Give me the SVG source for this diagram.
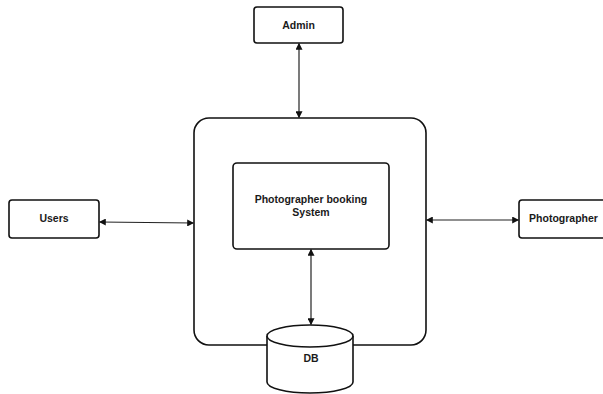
<svg xmlns="http://www.w3.org/2000/svg" width="603" height="394" viewBox="0 0 603 394">
<style>
.box{fill:#fff;stroke:#111;stroke-width:1.6}
.lbl{font-family:"Liberation Sans",Arial,sans-serif;font-weight:bold;font-size:10.5px;fill:#1a1a1a;text-anchor:middle}
.conn{stroke:#222;stroke-width:1.2;fill:none;marker-start:url(#ah);marker-end:url(#ah)}
</style>
<defs>
<marker id="ah" viewBox="0 0 10 10" refX="9" refY="5" markerWidth="7" markerHeight="7" orient="auto-start-reverse" markerUnits="userSpaceOnUse">
<path d="M0,0 L10,5 L0,10 Z" fill="#111"/>
</marker>
</defs>
<rect width="603" height="394" fill="#fff"/>
<g id="system">
<rect class="box" x="194" y="118" width="232" height="227" rx="15" ry="15"/>
</g>
<g id="booking">
<rect class="box" x="233" y="163" width="156" height="86" rx="4" ry="4"/>
<text class="lbl" x="311" y="203">Photographer booking</text>
<text class="lbl" x="311" y="216">System</text>
</g>
<g id="admin">
<rect class="box" x="254" y="7" width="89" height="36" rx="3" ry="3"/>
<text class="lbl" x="298.5" y="29">Admin</text>
</g>
<g id="users">
<rect class="box" x="9" y="200" width="90" height="38" rx="3" ry="3"/>
<text class="lbl" x="54" y="222">Users</text>
</g>
<g id="photographer">
<rect class="box" x="519" y="200" width="90" height="38" rx="3" ry="3"/>
<text class="lbl" x="563.5" y="222">Photographer</text>
</g>
<g id="db">
<path class="box" d="M267,336 L267,382 A43,11 0 0 0 353,382 L353,336"/>
<ellipse class="box" cx="310" cy="336" rx="43" ry="11"/>
<text class="lbl" x="311" y="362">DB</text>
</g>
<g id="connectors">
<line class="conn" x1="299" y1="43.5" x2="299" y2="117.5"/>
<line class="conn" x1="99.5" y1="222" x2="193.5" y2="223"/>
<line class="conn" x1="426.5" y1="220" x2="518.5" y2="220"/>
<line class="conn" x1="311" y1="249.5" x2="311" y2="324.5"/>
</g>
</svg>
